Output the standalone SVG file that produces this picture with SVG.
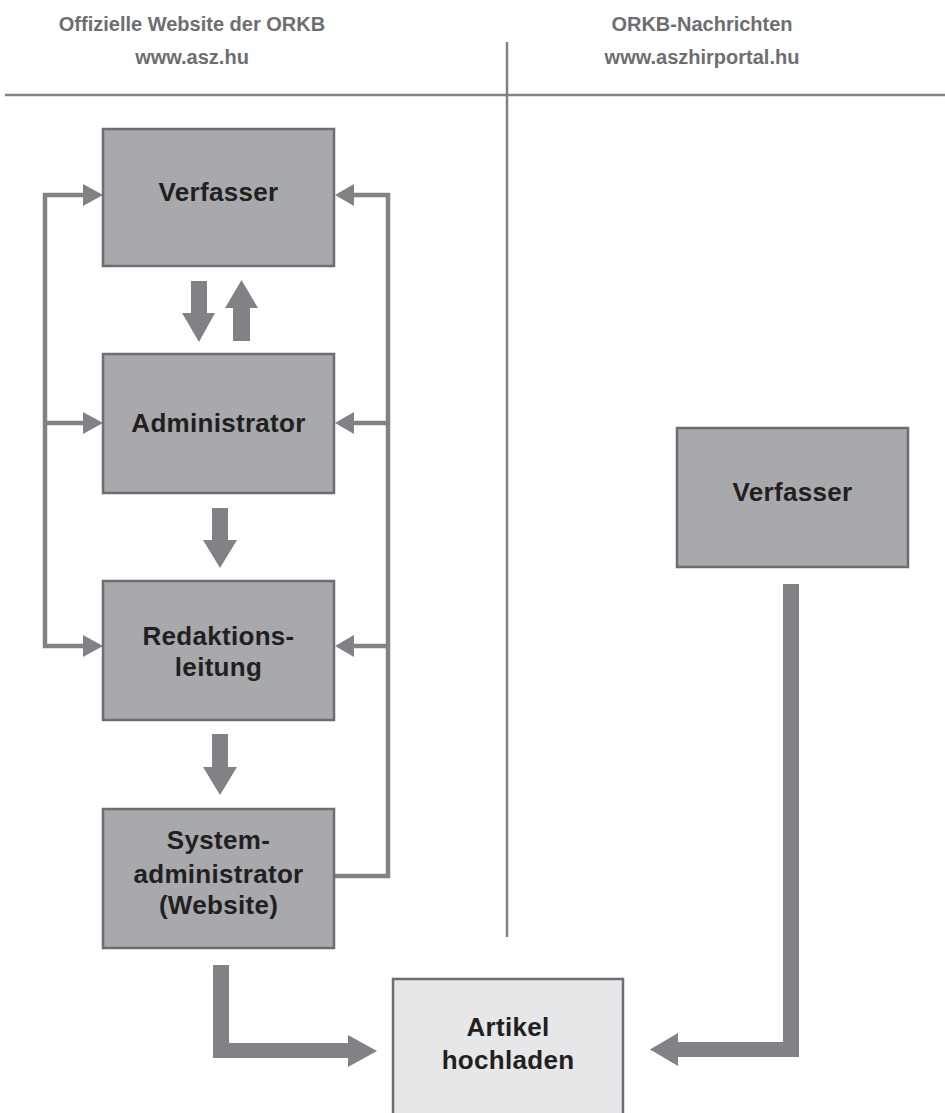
<svg xmlns="http://www.w3.org/2000/svg" width="945" height="1113" viewBox="0 0 945 1113">
<style>
.hdr{font-family:"Liberation Sans",Arial,sans-serif;font-weight:bold;font-size:20px;fill:#6d6e71;text-anchor:middle}
.lbl{font-family:"Liberation Sans",Arial,sans-serif;font-weight:bold;font-size:26px;fill:#231f20;text-anchor:middle;letter-spacing:0.3px}
.box{fill:#a7a9ac;stroke:#6d6e71;stroke-width:2.5}
.box2{fill:#e6e7e8;stroke:#6d6e71;stroke-width:2.5}
.thin{fill:none;stroke:#808285;stroke-width:4.5}
.fat{fill:#808285}
.sep{stroke:#808285;stroke-width:2.5}
</style>
<rect width="945" height="1113" fill="#ffffff"/>
<g id="header">
<text class="hdr" x="192" y="31">Offizielle Website der ORKB</text>
<text class="hdr" x="192" y="64">www.asz.hu</text>
<text class="hdr" x="702" y="31">ORKB-Nachrichten</text>
<text class="hdr" x="702" y="64">www.aszhirportal.hu</text>
<line class="sep" x1="5" y1="95" x2="945" y2="95"/>
<line class="sep" x1="507" y1="42" x2="507" y2="937"/>
</g>
<g id="connectors">
<path class="thin" d="M84 195 H45 V646 H84 M45 423 H84"/>
<polygon class="fat" points="83,184 103,195 83,206"/>
<polygon class="fat" points="83,412 103,423 83,434"/>
<polygon class="fat" points="83,635 103,646 83,657"/>
<path class="thin" d="M352 195 H388 V876 H335 M388 423 H352 M388 646 H352"/>
<polygon class="fat" points="354,184 335,195 354,206"/>
<polygon class="fat" points="354,412 335,423 354,434"/>
<polygon class="fat" points="354,635 335,646 354,657"/>
<polygon class="fat" points="191,281 207,281 207,313 215,313 199,342 182,313 191,313"/>
<polygon class="fat" points="233,341 250,341 250,308 258,308 241.5,280 225,308 233,308"/>
<polygon class="fat" points="212,508 228,508 228,540 237,540 220,568 203,540 212,540"/>
<polygon class="fat" points="212,734 228,734 228,767 237,767 220,795 203,767 212,767"/>
<polygon class="fat" points="213,965 229,965 229,1043 348,1043 348,1035 377,1051 348,1067 348,1058 213,1058"/>
<polygon class="fat" points="783,584 799,584 799,1057 678,1057 678,1066 650,1049.5 678,1033 678,1042 783,1042"/>
</g>
<g id="node-verfasser-left">
<rect class="box" x="103" y="129" width="231" height="137"/>
<text class="lbl" x="218.5" y="201">Verfasser</text>
</g>
<g id="node-administrator">
<rect class="box" x="103" y="354" width="231" height="139"/>
<text class="lbl" x="218.5" y="432">Administrator</text>
</g>
<g id="node-redaktionsleitung">
<rect class="box" x="103" y="581" width="231" height="139"/>
<text class="lbl" x="218.5" y="645">Redaktions-</text>
<text class="lbl" x="218.5" y="676">leitung</text>
</g>
<g id="node-systemadministrator">
<rect class="box" x="103" y="809" width="231" height="139"/>
<text class="lbl" x="218.5" y="849">System-</text>
<text class="lbl" x="218.5" y="883">administrator</text>
<text class="lbl" x="218.5" y="914">(Website)</text>
</g>
<g id="node-verfasser-right">
<rect class="box" x="677" y="428" width="231" height="139"/>
<text class="lbl" x="792.5" y="501">Verfasser</text>
</g>
<g id="node-artikel">
<rect class="box2" x="393" y="979" width="230" height="145"/>
<text class="lbl" x="508" y="1036">Artikel</text>
<text class="lbl" x="508" y="1069">hochladen</text>
</g>
</svg>
